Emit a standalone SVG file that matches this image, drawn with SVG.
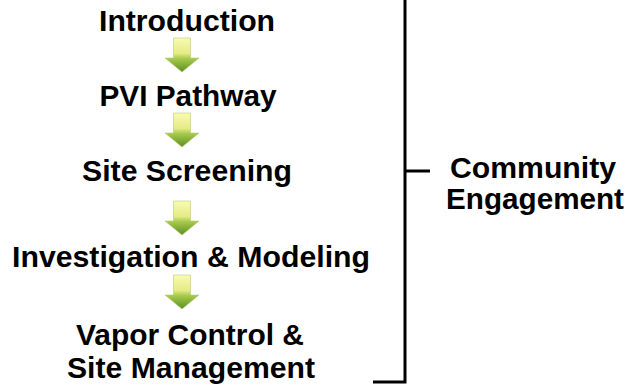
<svg xmlns="http://www.w3.org/2000/svg" width="630" height="388" viewBox="0 0 630 388">
<style>
text{font-family:"Liberation Sans",Arial,sans-serif;font-weight:bold;fill:#000;text-anchor:middle}
.l{font-size:29.5px}
.r{font-size:29px}
.ln{stroke:#000;stroke-width:3;fill:none}
.arr{fill:url(#g);stroke:#b9c97a;stroke-width:0.6}
</style>
<defs>
<linearGradient id="g" x1="0" y1="0" x2="0" y2="1">
<stop offset="0" stop-color="#fafab0"/>
<stop offset="0.45" stop-color="#e4ec86"/>
<stop offset="0.6" stop-color="#a9cb4e"/>
<stop offset="1" stop-color="#5a8f20"/>
</linearGradient>
<path id="a" d="M-8.5 0H8.5V20H17L0 34L-17 20H-8.5Z"/>
</defs>
<g id="connectors">
<use href="#a" class="arr" x="182" y="38"/>
<use href="#a" class="arr" x="182" y="113"/>
<use href="#a" class="arr" x="182" y="201"/>
<use href="#a" class="arr" x="182" y="275"/>
<path class="ln" d="M405 0V382H373"/>
<path class="ln" d="M405 171H430"/>
</g>
<g id="introduction"><text class="l" x="187" y="31" textLength="176" lengthAdjust="spacingAndGlyphs">Introduction</text></g>
<g id="pvi-pathway"><text class="l" x="188" y="106" textLength="177" lengthAdjust="spacingAndGlyphs">PVI Pathway</text></g>
<g id="site-screening"><text class="l" x="187" y="181" textLength="210" lengthAdjust="spacingAndGlyphs">Site Screening</text></g>
<g id="investigation"><text class="l" x="191" y="267" textLength="358" lengthAdjust="spacingAndGlyphs">Investigation &amp; Modeling</text></g>
<g id="vapor-control"><text class="l" x="190" y="345" textLength="228" lengthAdjust="spacingAndGlyphs">Vapor Control &amp;</text><text class="l" x="191" y="378" textLength="248" lengthAdjust="spacingAndGlyphs">Site Management</text></g>
<g id="community"><text class="r" x="533" y="178" textLength="166" lengthAdjust="spacingAndGlyphs">Community</text><text class="r" x="535" y="209" textLength="178" lengthAdjust="spacingAndGlyphs">Engagement</text></g>
</svg>
